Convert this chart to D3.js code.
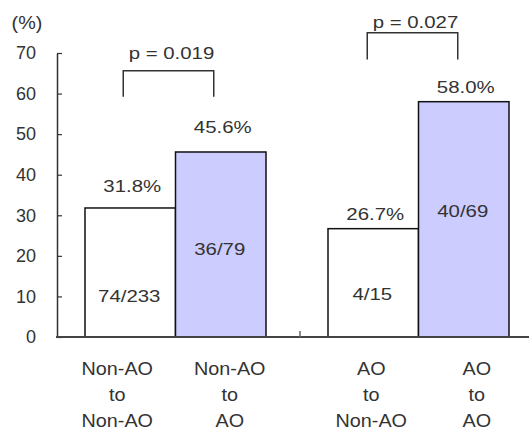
<!DOCTYPE html>
<html>
<head>
<meta charset="utf-8">
<script src="https://cdn.jsdelivr.net/npm/d3@7"></script>
<style>
  html, body { margin: 0; padding: 0; background: #fff; }
  svg { display: block; }
  text { font-family: "Liberation Sans", Arial, sans-serif; fill: #333; }
</style>
</head>
<body>
<svg id="chart" width="529" height="430"></svg>
<script>
// ---- data ----
const groups = ["Non-AO", "AO"];
const categories = ["Non-AO to Non-AO", "Non-AO to AO", "AO to Non-AO", "AO to AO"];
const categoryLines = [["Non-AO", "to", "Non-AO"], ["Non-AO", "to", "AO"], ["AO", "to", "Non-AO"], ["AO", "to", "AO"]];
const categoryGroup = ["Non-AO", "Non-AO", "AO", "AO"];
const categoryIndexInGroup = [0, 1, 0, 1];
const percentValues = [31.8, 45.6, 26.7, 58.0];
const fractionLabels = ["74/233", "36/79", "4/15", "40/69"];
const pValueLabels = ["p = 0.019", "p = 0.027"];
const yTicks = [0, 10, 20, 30, 40, 50, 60, 70];
const yUnitLabel = "(%)";

// ---- layout (not data) ----
const W = 529, H = 430;
const fills = ["#ffffff", "#ccccff", "#ffffff", "#ccccff"];
const pctLabelGap = [16, 19, 9, 9];          // px above bar top
const fracLabelLevel = [8.6, 20.2, 9.1, 29.6]; // baseline in axis units
const xLabelShift = [-13, 9, -2, 13];        // px from bar centre
const bracketLevels = [[59.2, 65.6], [68.4, 75.0]]; // axis units (bottom, top)
const bracketShift = [-7, -6];
const pTextGap = [12, 5];

const svg = d3.select("#chart");

const y = d3.scaleLinear().domain([0, 70]).range([337, 53]);
const xGroup = d3.scaleBand().domain(groups).range([57, 543]).padding(0);
const xInner = d3.scaleBand().domain([0, 1]).range([28, 209]).padding(0);
const barX = i => xGroup(categoryGroup[i]) + xInner(categoryIndexInGroup[i]);
const barCx = i => barX(i) + xInner.bandwidth() / 2;

function stretchedText(g, x, yy, txt, size, sx) {
  return g.append("text")
    .attr("transform", `translate(${x},${yy}) scale(${sx},1)`)
    .attr("text-anchor", "middle")
    .style("font-size", size + "px")
    .text(txt);
}

// bars
svg.append("g").selectAll("rect")
  .data(percentValues)
  .join("rect")
  .attr("x", (d, i) => barX(i))
  .attr("y", d => y(d))
  .attr("width", xInner.bandwidth())
  .attr("height", d => y(0) - y(d))
  .attr("fill", (d, i) => fills[i])
  .attr("stroke", "#111")
  .attr("stroke-width", 1.5);

// y axis
const yAxis = d3.axisLeft(y).tickValues(yTicks).tickSizeInner(-5).tickSizeOuter(0).tickPadding(21);
const ya = svg.append("g").attr("transform", "translate(57,0)").call(yAxis);
ya.select(".domain").attr("stroke", "#333").attr("stroke-width", 1.5);
ya.selectAll(".tick line").attr("stroke", "#333").attr("stroke-width", 1.2);
ya.selectAll(".tick text").style("font-size", "18px").attr("fill", "#333")
  .style("font-family", '"Liberation Sans", Arial, sans-serif');

// x axis baseline and group separators
const xa = svg.append("g");
xa.append("line").attr("x1", 56).attr("x2", W).attr("y1", y(0)).attr("y2", y(0))
  .attr("stroke", "#444").attr("stroke-width", 1.8);
groups.forEach(g => {
  const bx = xGroup(g) + xGroup.bandwidth();
  xa.append("line").attr("x1", bx).attr("x2", bx).attr("y1", y(0)).attr("y2", y(0) - 6)
    .attr("stroke", "#666").attr("stroke-width", 1.5);
});

// unit label
stretchedText(svg, 27, 29, yUnitLabel, 18, 1.1);

// percentage labels
percentValues.forEach((v, i) => {
  stretchedText(svg, barCx(i) + 2, y(v) - pctLabelGap[i], v.toFixed(1) + "%", 17, 1.2);
});

// fraction labels inside bars
fractionLabels.forEach((t, i) => {
  stretchedText(svg, barCx(i) - 1, y(fracLabelLevel[i]), t, 17, 1.2);
});

// category labels
categoryLines.forEach((lines, i) => {
  lines.forEach((ln, j) => {
    stretchedText(svg, barCx(i) + xLabelShift[i], 375 + j * 26, ln, 18, 1.1);
  });
});

// significance brackets
groups.forEach((g, gi) => {
  const idx = categoryGroup.map((c, i) => c === g ? i : -1).filter(i => i >= 0);
  const x1 = barCx(idx[0]) + bracketShift[gi];
  const x2 = barCx(idx[1]) + bracketShift[gi];
  const yb = y(bracketLevels[gi][0]), yt = y(bracketLevels[gi][1]);
  svg.append("path")
    .attr("d", `M${x1},${yb} V${yt} H${x2} V${yb}`)
    .attr("fill", "none").attr("stroke", "#333").attr("stroke-width", 1.5);
  stretchedText(svg, (x1 + x2) / 2 + 3, yt - pTextGap[gi], pValueLabels[gi], 17, 1.2);
});
</script>
</body>
</html>
